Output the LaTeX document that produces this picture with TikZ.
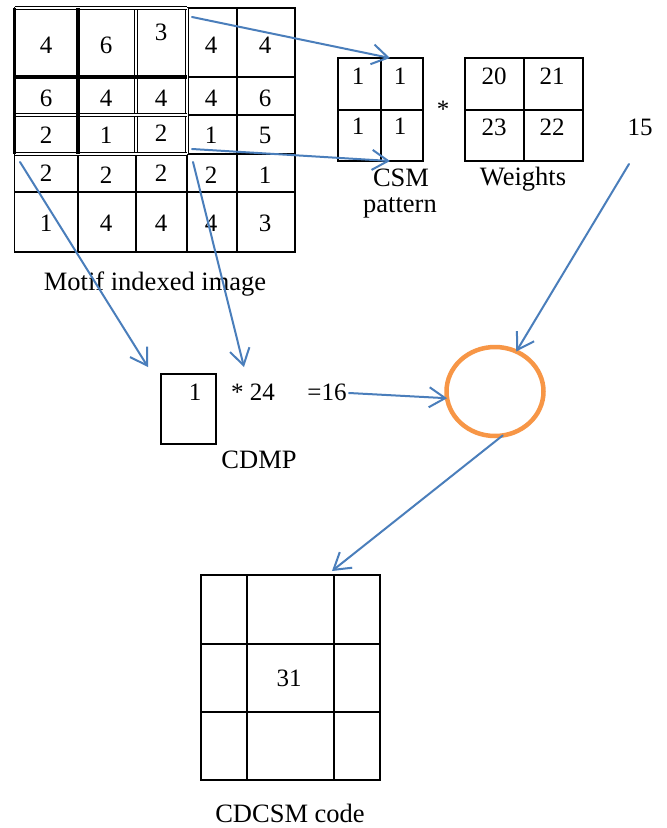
\documentclass[tikz,border=0pt]{standalone}
\usepackage{fontspec}
\setmainfont{Liberation Serif}
\usetikzlibrary{arrows.meta,shapes.geometric}
\definecolor{arrblue}{RGB}{74,126,187}
\definecolor{ringorange}{RGB}{247,150,70}
\begin{document}
\begin{tikzpicture}[x=1pt,y=-1pt,
  gl/.style={line width=1.5pt,black},
  dbl/.style={line width=1.4pt,black,double=white,double distance=1.2pt},
  thk/.style={line width=4pt,black},
  num/.style={font=\fontsize{25}{28}\selectfont, inner sep=0pt},
  lab/.style={font=\fontsize{26.5}{30}\selectfont, inner sep=0pt},
  conn/.style={arrblue, line width=2pt, line cap=round,
    -{Straight Barb[length=16pt,width=20pt,line width=2pt]}}]
\useasboundingbox[fill=white] (0,0) rectangle (667,828);

% ---------- motif indexed image grid ----------
\draw[gl] (14.7,8) rectangle (295,252);
\draw[gl] (78,154) -- (78,252);
\draw[gl] (136,154) -- (136,252);
\draw[gl] (187,154) -- (187,252);
\draw[gl] (237,8) -- (237,252);
\draw[gl] (187,77) -- (295,77);
\draw[gl] (187,115) -- (295,115);
\draw[gl] (187,154) -- (295,154);
\draw[gl] (14.7,192) -- (295,192);
% highlighted 3x3 block
\draw[dbl] (136,8) -- (136,154);
\draw[dbl] (187,8) -- (187,154);
\draw[dbl] (14.7,8) -- (187,8);
\draw[dbl] (14.7,115) -- (187,115);
\draw[dbl] (14.7,154) -- (187,154);
\draw[thk] (78,8) -- (78,154);
\draw[thk] (14.7,77) -- (187,77);
\draw[line width=3.5pt] (14.7,8) -- (14.7,154);
% numbers
\node[num] (g11) at (46,45) {4};
\node[num] (g12) at (106,45) {6};
\node[num] (g13) at (161,32) {3};
\node[num] (g14) at (211,45) {4};
\node[num] (g15) at (265,45) {4};
\node[num] (g21) at (46,98) {6};
\node[num] (g22) at (106,98) {4};
\node[num] (g23) at (161,98) {4};
\node[num] (g24) at (211,98) {4};
\node[num] (g25) at (265,98) {6};
\node[num] (g31) at (46,135) {2};
\node[num] (g32) at (106,135) {1};
\node[num] (g33) at (161,133) {2};
\node[num] (g34) at (211,135) {1};
\node[num] (g35) at (265,135) {5};
\node[num] (g41) at (46,173) {2};
\node[num] (g42) at (106,175) {2};
\node[num] (g43) at (161,173) {2};
\node[num] (g44) at (211,175) {2};
\node[num] (g45) at (265,175) {1};
\node[num] (g51) at (46,223) {1};
\node[num] (g52) at (106,223) {4};
\node[num] (g53) at (161,223) {4};
\node[num] (g54) at (211,223) {4};
\node[num] (g55) at (265,223) {3};
\node[lab] (motif) at (155,284) {Motif indexed image};

% ---------- CSM pattern ----------
\draw[gl] (338,58) rectangle (423,161);
\draw[gl] (381,58) -- (381,161);
\draw[gl] (338,110) -- (423,110);
\node[num] (c11) at (358,76) {1};
\node[num] (c12) at (400,76) {1};
\node[num] (c21) at (358,126) {1};
\node[num] (c22) at (400,126) {1};
\node[lab] (csm) at (401,178) {CSM};
\node[lab] (pat) at (400,208) {pattern};
\node[num] (star) at (443,109) {*};

% ---------- weights ----------
\draw[gl] (465,58) rectangle (583,161);
\draw[gl] (524,58) -- (524,161);
\draw[gl] (465,110) -- (583,110);
\node[num] (w11) at (494,76) {20};
\node[num] (w12) at (552,76) {21};
\node[num] (w21) at (494,127) {23};
\node[num] (w22) at (552,127) {22};
\node[lab] (weights) at (523,179) {Weights};
\node[num] (fifteen) at (640,127) {15};

% ---------- CDMP ----------
\draw[gl] (161,374) rectangle (216,444);
\node[num] (d1) at (195,392) {1};
\node[num] (mul) at (253,392) {* 24};
\node[num] (eq) at (327,392) {=16};
\node[lab] (cdmp) at (259,460) {CDMP};

% ---------- operator circle ----------
\node[ellipse, draw=ringorange, line width=4.5pt, minimum width=97pt,
      minimum height=89pt, inner sep=0pt, outer sep=0pt] (op) at (495,391.5) {};

% ---------- CDCSM code ----------
\draw[gl] (201,575) rectangle (380,780);
\draw[gl] (247,575) -- (247,780);
\draw[gl] (334,575) -- (334,780);
\draw[gl] (201,644) -- (380,644);
\draw[gl] (201,712) -- (380,712);
\node[num] (code) at (289,678) {31};
\node[lab] (cdcsm) at (290,813.5) {CDCSM code};

% ---------- connectors ----------
\coordinate (s1) at (192,17);
\coordinate (e1) at (390,58);
\coordinate (s2) at (192,149);
\coordinate (e2) at (390,161);
\coordinate (s3) at (20,162);
\coordinate (e3) at (148,367);
\coordinate (s4) at (193,162);
\coordinate (e4) at (244,367);
\coordinate (s5) at (629,164);
\coordinate (s6) at (349,393);
\coordinate (e7) at (332,571);
\draw[conn] (s1) -- (e1);
\draw[conn] (s2) -- (e2);
\draw[conn] (s3) -- (e3);
\draw[conn] (s4) -- (e4);
\draw[conn] (s5) -- (op.62);
\draw[conn] (s6) -- (op.188);
\draw[conn] (op.-80) -- (e7);
\end{tikzpicture}
\end{document}
